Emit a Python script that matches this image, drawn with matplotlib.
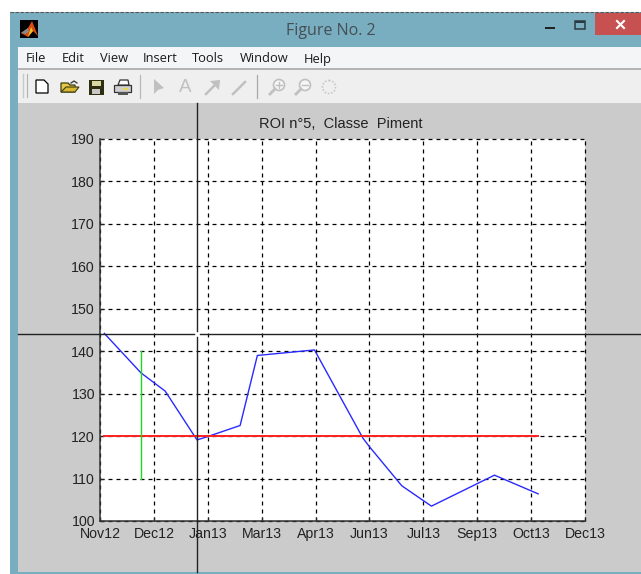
#!/usr/bin/env python3
"""MATLAB figure window screenshot: ROI time profile with window chrome."""
import matplotlib

matplotlib.use("Agg")
import matplotlib.pyplot as plt
from matplotlib.patches import Circle, Polygon, Rectangle

plt.rcParams["font.family"] = ["Liberation Sans", "DejaVu Sans"]

WIDTH, HEIGHT = 641, 574

# tick labels are evenly spaced, so x is in units of one tick
month_labels = ["Nov12", "Dec12", "Jan13", "Mar13", "Apr13",
                "Jun13", "Jul13", "Sep13", "Oct13", "Dec13"]
y_ticks = [100, 110, 120, 130, 140, 150, 160, 170, 180, 190]

profile_x = [0.08, 0.76, 1.21, 1.80, 2.00, 2.60, 2.92, 3.98, 4.88, 5.00, 5.60, 6.15, 7.32, 8.13]
profile_y = [144.2, 134.9, 130.6, 119.1, 119.9, 122.5, 139.0, 140.3, 119.5, 117.5, 108.3, 103.5, 110.8, 106.4]

threshold_x = [0.08, 8.13]
threshold_y = [120, 120]

green_x = [0.76, 0.76]
green_y = [110, 140]

menu_items = [("File", 26), ("Edit", 62), ("View", 100), ("Insert", 143),
              ("Tools", 192), ("Window", 240), ("Help", 304)]


def rect(ax, x0, y0, x1, y1, color, **kw):
    ax.add_patch(Rectangle((x0, y0), x1 - x0, y1 - y0, fc=color, ec="none", **kw))


def draw_icons(ax):
    # new / open / save / print
    ax.add_patch(Polygon([(36, 80), (44, 80), (48, 84), (48, 93), (36, 93)], fc="white", ec="black", lw=0.9))
    ax.add_patch(Polygon([(61, 92), (61, 83), (68, 83), (70, 85), (75, 85), (75, 92)], fc="#e8c84a", ec="#3c3c10", lw=0.9))
    ax.add_patch(Polygon([(61, 92), (66, 87), (79, 87), (75, 92)], fc="#d8b830", ec="#3c3c10", lw=0.8))
    ax.plot([71, 74, 77], [83, 81, 83], color="#333333", lw=0.9)
    rect(ax, 88.5, 80, 104, 94.5, "#2e2e10")
    rect(ax, 92, 81, 101, 86, "#d8d8a0")
    rect(ax, 92, 89, 100, 94, "#c8c8c8")
    ax.add_patch(Rectangle((114, 85), 17, 7, fc="#cfcfcf", ec="#333333", lw=0.9))
    ax.add_patch(Polygon([(118, 85), (120, 80), (128, 80), (129, 85)], fc="white", ec="#333333", lw=0.9))
    rect(ax, 118, 92, 128, 95, "#555555")
    rect(ax, 123, 88, 128, 90, "#e8d850")

    # greyed out edit / zoom buttons
    grey = "#c0c0c0"
    ax.add_patch(Polygon([(154, 79), (154, 94), (158, 90), (164, 88)], fc=grey, ec="none"))
    ax.text(185.5, 87.5, "A", color=grey, fontsize=13.5, ha="center", va="center")
    ax.plot([206, 218], [94, 82], color=grey, lw=1.8)
    ax.add_patch(Polygon([(210, 81), (220, 80), (219, 90)], fc=grey, ec="none"))
    ax.plot([233, 245], [94, 82], color=grey, lw=1.8)
    for cx, sign in [(279, "+"), (305, "-")]:
        ax.add_patch(Circle((cx, 85), 5.5, fc="#f6f6f6", ec=grey, lw=1.2))
        ax.plot([cx - 9, cx - 4], [94, 89], color=grey, lw=2)
        ax.plot([cx - 3, cx + 3], [85, 85], color=grey, lw=1)
        if sign == "+":
            ax.plot([cx, cx], [82, 88], color=grey, lw=1)
    ax.add_patch(Circle((329, 87), 6.5, fc="none", ec="#c8c8c8", lw=1.2, ls=(0, (1, 1))))


def draw_window(ax):
    ax.set_xlim(0, WIDTH)
    ax.set_ylim(HEIGHT, 0)
    ax.axis("off")

    # screenshot background, frame and the bars of the window
    rect(ax, 0, 0, WIDTH, HEIGHT, "white")
    rect(ax, 9.5, 11.5, WIDTH, HEIGHT, "#78aec0")
    ax.plot([10, WIDTH], [11.5, 11.5], color="#555555", lw=0.8, ls=(0, (3, 1.5)))
    rect(ax, 18, 46.5, WIDTH, 68, "#f4f5f7")
    rect(ax, 18, 68, WIDTH, 70, "#b4b4b4")
    rect(ax, 18, 70, WIDTH, 102.5, "#efefef")
    rect(ax, 18, 102.5, WIDTH, 571.5, "#cbcbcb")

    # title bar
    rect(ax, 20, 20, 38, 38, "black")
    ax.add_patch(Polygon([(21, 33), (28, 28), (32, 21), (38, 36), (33, 31), (28, 37)], fc="#d84a10", ec="none"))
    ax.add_patch(Polygon([(21, 33), (28, 28), (29, 32), (25, 34)], fc="#888888", ec="none"))
    ax.add_patch(Polygon([(28, 37), (31, 27), (33, 31)], fc="#f0c020", ec="none"))
    ax.text(330.5, 35, "Figure No. 2", family="Open Sans", fontsize=11.5,
            color="#454f55", ha="center", va="baseline")
    rect(ax, 545, 26.5, 555, 28.5, "#222222")
    ax.add_patch(Rectangle((575, 20.5), 10, 8, fc="none", ec="#2a3a42", lw=1.1))
    rect(ax, 575, 20.5, 585, 22.5, "#2a3a42")
    rect(ax, 595, 13, WIDTH, 35, "#c75050")
    ax.plot([617, 624], [21, 28], color="white", lw=1.5)
    ax.plot([617, 624], [28, 21], color="white", lw=1.5)

    for label, x in menu_items:
        ax.text(x, 62.5, label, family="Open Sans", fontsize=9.3,
                color="#1a1a1a", ha="left", va="baseline")

    # toolbar separators
    ax.plot([23, 23], [74, 97], color="#c8c8c8", lw=1.0)
    ax.plot([27, 27], [74, 97], color="#b0b0b0", lw=0.8)
    ax.plot([140, 140], [75, 98], color="#b8b8b8", lw=0.9)
    ax.plot([256.5, 256.5], [75, 98], color="#a8a8a8", lw=0.9)
    draw_icons(ax)


def draw_plot(ax):
    ax.set_facecolor("white")
    ax.set_xlim(0, len(month_labels) - 1)
    ax.set_ylim(y_ticks[0], y_ticks[-1])
    ax.set_xticks(range(len(month_labels)), month_labels)
    ax.set_yticks(y_ticks)
    ax.grid(True, color="black", lw=0.9, ls=(0, (3.2, 3.2)))
    for line in ax.get_xgridlines() + ax.get_ygridlines():
        line.set_clip_on(False)
    ax.set_axisbelow(True)
    ax.tick_params(axis="both", direction="in", length=3, width=0.9, colors="#222222",
                   labelsize=10.2, top=False, right=False)
    ax.tick_params(axis="x", pad=4.2)
    ax.tick_params(axis="y", pad=3.6)
    for side in ("top", "right"):
        ax.spines[side].set_visible(False)
    for side in ("left", "bottom"):
        ax.spines[side].set_color("#333333")
        ax.spines[side].set_linewidth(1.1)

    ax.plot(profile_x, profile_y, color="#2a2aff", lw=1.0)
    ax.plot(threshold_x, threshold_y, color="#ff2020", lw=1.4)
    ax.plot(green_x, green_y, color="#20d820", lw=1.0)
    ax.set_title("ROI n°5,  Classe  Piment", fontsize=10.5, color="#222222", pad=8, x=0.497)


def draw_crosshair(ax):
    ax.set_xlim(0, WIDTH)
    ax.set_ylim(HEIGHT, 0)
    ax.axis("off")
    ax.plot([197, 197], [103, 331], color="#222222", lw=1.0)
    ax.plot([197, 197], [337, 571.5], color="#222222", lw=1.0)
    ax.plot([18, 194], [334, 334], color="#222222", lw=1.0)
    ax.plot([200, WIDTH], [334, 334], color="#222222", lw=1.0)


def main():
    fig = plt.figure(figsize=(WIDTH / 100, HEIGHT / 100), dpi=100)

    draw_window(fig.add_axes([0, 0, 1, 1], zorder=0))

    left, right, top, bottom = 100, 585, 139, 521
    plot_ax = fig.add_axes([left / WIDTH, 1 - bottom / HEIGHT,
                            (right - left) / WIDTH, (bottom - top) / HEIGHT], zorder=1)
    draw_plot(plot_ax)

    overlay = fig.add_axes([0, 0, 1, 1], zorder=2)
    overlay.patch.set_visible(False)
    draw_crosshair(overlay)

    fig.savefig("out.png", dpi=100)
    plt.close(fig)


if __name__ == "__main__":
    main()
